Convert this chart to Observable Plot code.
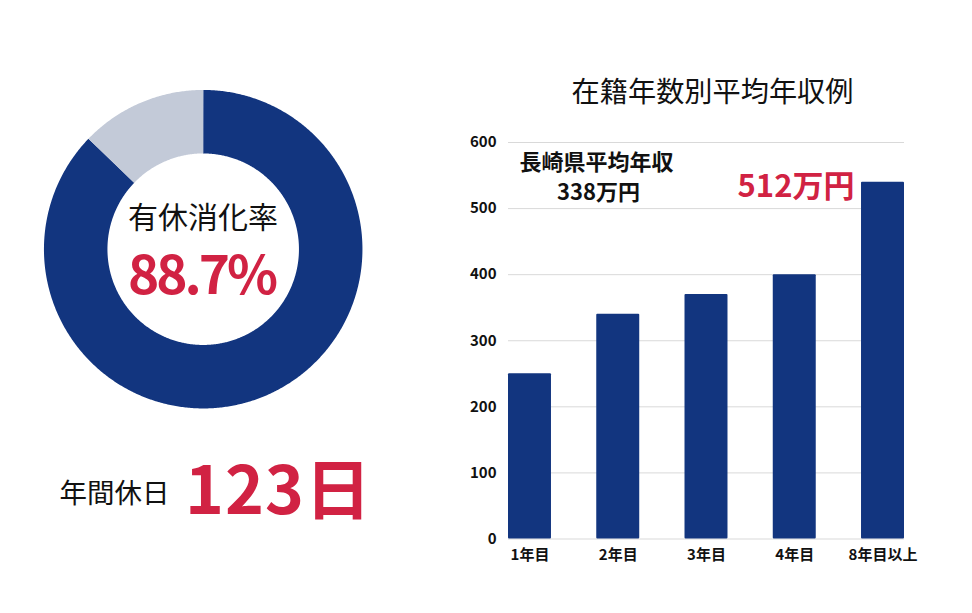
<!DOCTYPE html>
<html lang="ja">
<head>
<meta charset="utf-8">
<script src="https://cdn.jsdelivr.net/npm/d3@7"></script>
<script src="https://cdn.jsdelivr.net/npm/@observablehq/plot@0.6"></script>
<style>
html,body{margin:0;padding:0;background:#fff;}
#wrap{position:relative;width:972px;height:613px;overflow:hidden;background:#fff;}
#wrap svg{position:absolute;top:0;background:transparent;}
.pct text{letter-spacing:-3px;}
.days text{letter-spacing:1px;}
</style>
</head>
<body>
<div id="wrap"></div>
<script>
const FONT = '"Noto Sans CJK JP","Noto Sans",sans-serif';
const NAVY = "#12357f", GREY = "#c3cad8", RED = "#d12243", INK = "#111111";

// Bars
const years = ["1年目", "2年目", "3年目", "4年目", "8年目以上"];
const income = [250, 340, 370, 400, 540];
const incomeTicks = [0, 100, 200, 300, 400, 500, 600];

// Donut (shares as drawn in the picture)
const sliceNames = ["取得", "未取得"];
const sliceShares = [87.2, 12.8];
const sliceColors = [NAVY, GREY];

const bars = years.map((year, i) => ({year, value: income[i]}));

// Each slice is traced as a thick polar line in the donut plot's x/y scales.
const total = d3.sum(sliceShares);
let cumulative = 0;
const ring = [];
sliceShares.forEach((share, i) => {
  const start = cumulative / total, end = (cumulative + share) / total;
  cumulative += share;
  const n = Math.ceil((end - start) * 720);
  for (let k = 0; k <= n; ++k) {
    const a = (start + (end - start) * k / n) * 2 * Math.PI;
    ring.push({slice: sliceNames[i], x: Math.sin(a), y: Math.cos(a)});
  }
});

const label = (s, cx, cy, fontSize, fill, fontWeight, extra = {}) =>
  Plot.text([s], {frameAnchor: "top-left", textAnchor: "middle", lineAnchor: "middle",
    dx: cx, dy: cy, text: d => d, fontSize, fill, fontWeight, ...extra});

const left = Plot.plot({
  width: 420, height: 613,
  margin: 0,
  style: {fontFamily: FONT, background: "transparent"},
  x: {domain: [-1, 1], range: [202.7 - 127.5, 202.7 + 127.5], axis: null},
  y: {domain: [-1, 1], range: [248.7 + 127.5, 248.7 - 127.5], axis: null},
  color: {domain: sliceNames, range: sliceColors},
  marks: [
    Plot.line(ring, {x: "x", y: "y", z: "slice", stroke: "slice", strokeWidth: 63.5,
      strokeLinecap: "butt", strokeLinejoin: "round"}),
    label("有休消化率", 202.5, 218, 30, INK, 400),
    label("88.7%", 201, 277, 53, RED, 700, {className: "pct"}),
    label("年間休日", 114, 494, 27.5, INK, 400),
    label("123日", 278, 492, 66, RED, 700, {className: "days"})
  ]
});
left.style.left = "0px";

const offX = 508, offY = 142;
const right = Plot.plot({
  width: 532, height: 613,
  marginLeft: 68, marginRight: 68, marginTop: 142, marginBottom: 74.5,
  style: {fontFamily: FONT, background: "transparent"},
  x: {domain: years, paddingInner: 0.513, paddingOuter: 0, round: false, label: null},
  y: {domain: [0, 600], label: null},
  marks: [
    Plot.ruleY(incomeTicks, {stroke: "#d9d9d9", strokeWidth: 1}),
    Plot.barY(bars, {x: "year", y: "value", fill: NAVY, rx: 1}),
    Plot.axisY({ticks: incomeTicks, tickSize: 0, tickPadding: 12, label: null, fontSize: 15, fontWeight: 700, fill: INK}),
    Plot.axisX({tickSize: 0, tickPadding: 10, label: null, fontSize: 15, fontWeight: 700, fill: INK}),
    label("在籍年数別平均年収例", 712 - offX, 92 - offY, 28.2, INK, 400),
    label("長崎県平均年収", 596 - offX, 162 - offY, 22, INK, 700),
    label("338万円", 598 - offX, 192 - offY, 22, INK, 700),
    label("512万円", 795.5 - offX, 187 - offY, 31, RED, 700)
  ]
});
right.style.left = "440px";

document.getElementById("wrap").append(left, right);
</script>
</body>
</html>
